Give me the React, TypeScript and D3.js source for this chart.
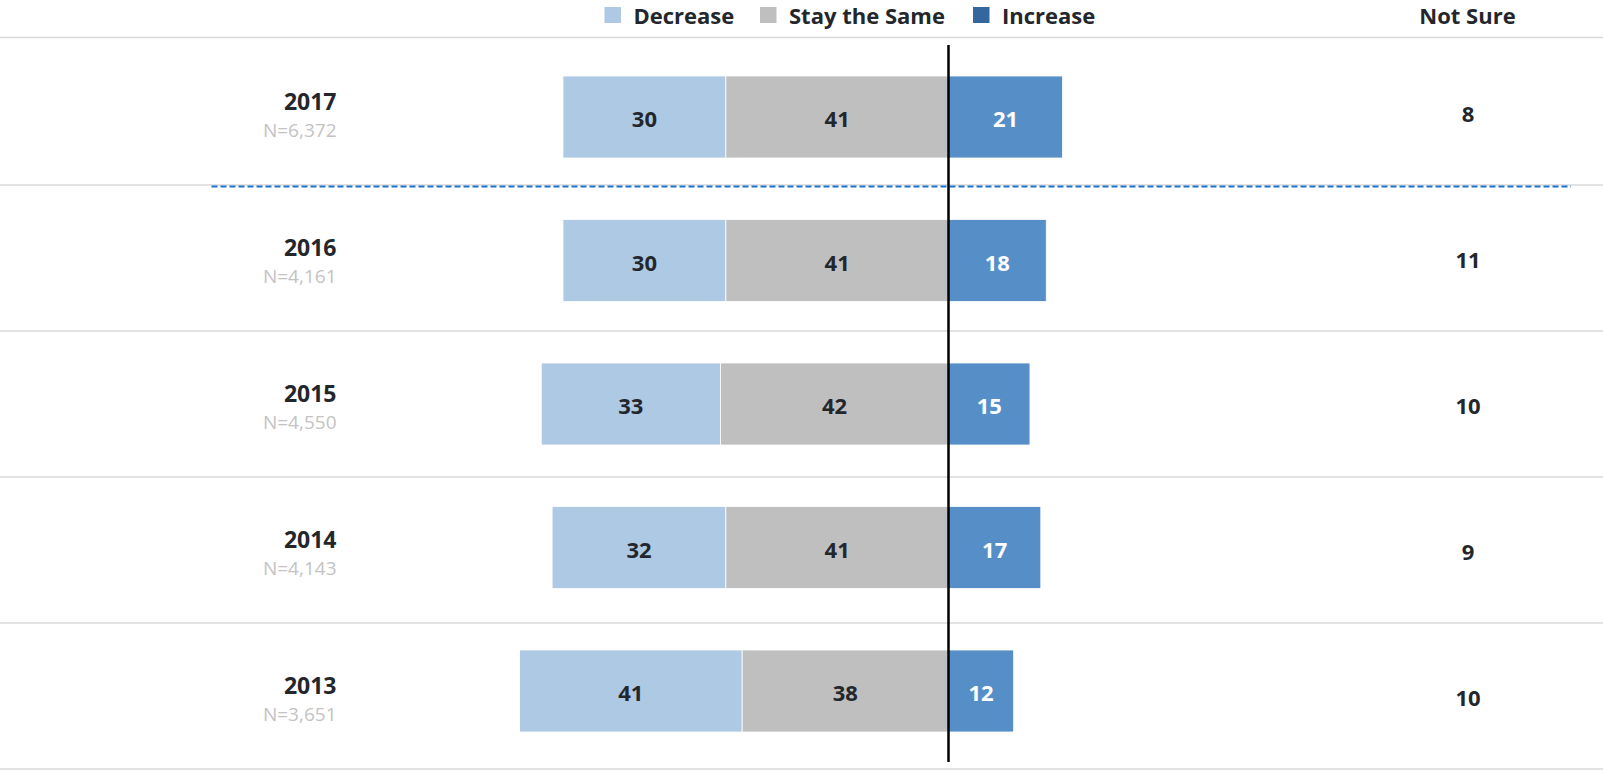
import React from "react";
import * as d3 from "d3";

const years = ["2017", "2016", "2015", "2014", "2013"];
const sampleSizes = ["N=6,372", "N=4,161", "N=4,550", "N=4,143", "N=3,651"];
const decrease = [30, 30, 33, 32, 41];
const stayTheSame = [41, 41, 42, 41, 38];
const increase = [21, 18, 15, 17, 12];
const notSure = [8, 11, 10, 9, 10];
const legendLabels = ["Decrease", "Stay the Same", "Increase"];

const W = 1603;
const H = 770;
const FONT = "'Open Sans', Lato, sans-serif";
const TEXT = "#23272c";
const C_DEC = "#aec9e4";
const C_SAME = "#bfbfbf";
const C_INC = "#568ec8";
const C_INC_LEGEND = "#35679f";

export default function App() {
  const x = d3.scaleLinear().domain([-100, 100]).range([948.5 - 543, 948.5 + 543]);
  const rows = d3.scaleBand<string>().domain(years).range([39, 769]).padding(0);
  const barBand = d3.scaleBand<string>().domain(years).range([45.25, 762.75]).padding(0);
  const barH = 82;
  const rowLines = d3.range(years.length + 1).map((i) => (i === 0 ? 37.5 : 39 + i * rows.step()));

  const legendColors = [C_DEC, C_SAME, C_INC_LEGEND];
  const legendX = [604.5, 760, 973];

  return (
    <svg width={W} height={H} style={{ position: "absolute", left: 0, top: 0, background: "#fff" }} fontFamily={FONT}>
      {/* legend */}
      {legendLabels.map((l, i) => (
        <g key={l}>
          <rect x={legendX[i]} y={7} width={16.5} height={16} fill={legendColors[i]} />
          <text x={legendX[i] + 29} y={15} dominantBaseline="central" fontSize={22} fontWeight={700} fill={TEXT}>
            {l}
          </text>
        </g>
      ))}
      <text x={1467.5} y={15} dominantBaseline="central" textAnchor="middle" fontSize={22} fontWeight={700} fill={TEXT}>
        Not Sure
      </text>

      {/* grid lines */}
      {rowLines.map((y, i) => (
        <line key={i} x1={0} x2={W} y1={y} y2={y} stroke="#d9d9d9" strokeWidth={1.5} />
      ))}
      <line x1={211.5} x2={1571} y1={186.5} y2={186.5} stroke="#1a74cc" strokeWidth={2} strokeDasharray="6,3" />

      {years.map((yr, i) => {
        const cy = (barBand(yr) as number) + barBand.bandwidth() / 2;
        const ry = (rows(yr) as number) + rows.bandwidth() / 2;
        const d = decrease[i];
        const s = stayTheSame[i];
        const inc = increase[i];
        const segs = [
          { x0: x(-(d + s)), x1: x(-s), fill: C_DEC, v: d, color: TEXT },
          { x0: x(-s), x1: x(0), fill: C_SAME, v: s, color: TEXT },
          { x0: x(0), x1: x(inc), fill: C_INC, v: inc, color: "#ffffff" },
        ];
        return (
          <g key={yr}>
            <text x={336.5} y={ry - 2} textAnchor="end" fontSize={23} fontWeight={700} fill={TEXT}>
              {yr}
            </text>
            <text x={336.5} y={ry + 25} textAnchor="end" fontSize={19} fill="#c3c3c3">
              {sampleSizes[i]}
            </text>
            {segs.map((sg, j) => (
              <g key={j}>
                <rect x={sg.x0} y={cy - barH / 2} width={sg.x1 - sg.x0} height={barH} fill={sg.fill} stroke="#ffffff" strokeWidth={0.8} />
                <text x={(sg.x0 + sg.x1) / 2} y={cy + 1} textAnchor="middle" dominantBaseline="central" fontSize={22} fontWeight={700} fill={sg.color}>
                  {sg.v}
                </text>
              </g>
            ))}
            <text x={1468} y={ry + 1} textAnchor="middle" dominantBaseline="central" fontSize={22} fontWeight={700} fill={TEXT}>
              {notSure[i]}
            </text>
          </g>
        );
      })}

      {/* zero line */}
      <line x1={x(0)} x2={x(0)} y1={45} y2={762} stroke="#000" strokeWidth={2.5} />
    </svg>
  );
}
